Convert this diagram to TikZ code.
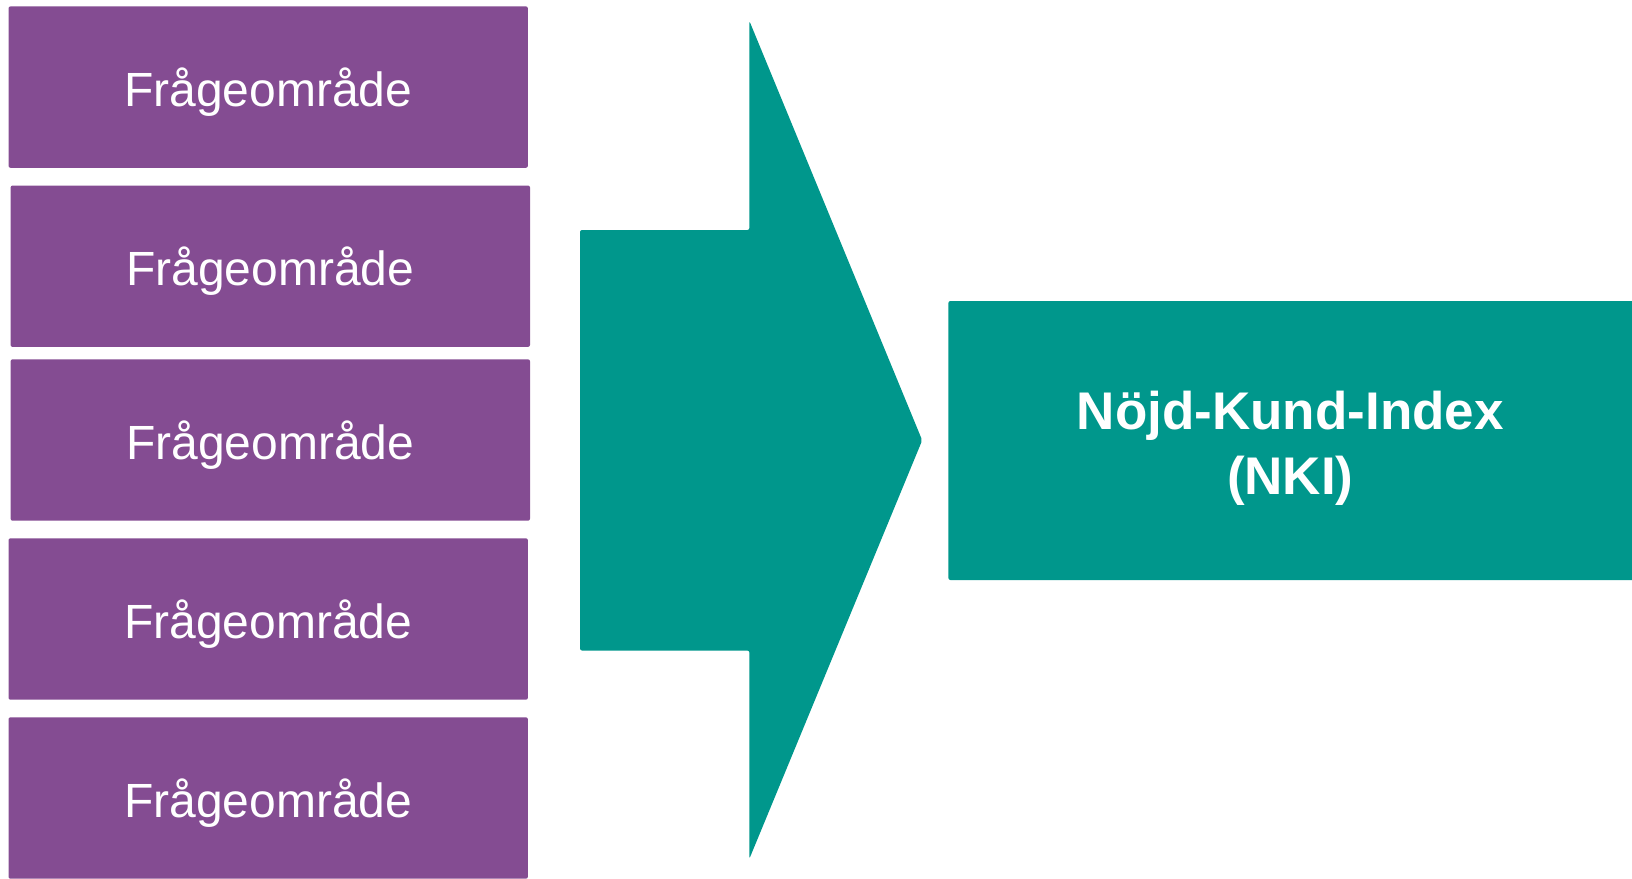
\documentclass[tikz,border=0pt]{standalone}
\usepackage{fontspec}
\setmainfont{Liberation Sans}
\definecolor{areapurple}{RGB}{132,76,146}
\definecolor{nkiteal}{RGB}{0,151,140}
\begin{document}
\begin{tikzpicture}[x=1pt,y=-1pt,
  area/.style={fill=areapurple, rounded corners=2pt, minimum width=519.4pt, minimum height=161.4pt,
    inner sep=0pt, anchor=north west, text=white, font=\fontsize{48}{58}\selectfont,
    text height=48pt, text depth=10pt},
  nkibox/.style={fill=nkiteal, rounded corners=2pt, minimum width=700pt, minimum height=279pt,
    inner sep=0pt, anchor=north west},
  nkitext/.style={text=white, font=\bfseries\fontsize{53}{65}\selectfont, align=center, inner sep=0pt}]
\useasboundingbox (0,0) rectangle (1632,878);
\clip (0,0) rectangle (1632,878);
\node[area] (a1) at (8.3,6.2) {Frågeområde};
\node[area] (a2) at (10.4,185.3) {Frågeområde};
\node[area] (a3) at (10.4,359.1) {Frågeområde};
\node[area] (a4) at (8.3,538.1) {Frågeområde};
\node[area] (a5) at (8.3,717.1) {Frågeområde};
% big arrow
\fill[nkiteal, rounded corners=2pt]
  (580,230) -- (749.4,230) -- (749.4,21) -- (922.2,440.3) -- (749.4,858.7)
  -- (749.4,650.5) -- (580,650.5) -- cycle;
\node[nkibox] (nki) at (948.2,300.8) {};
\node[nkitext] (nkit) at (1290.3,448) {Nöjd-Kund-Index\\(NKI)};
\end{tikzpicture}
\end{document}
